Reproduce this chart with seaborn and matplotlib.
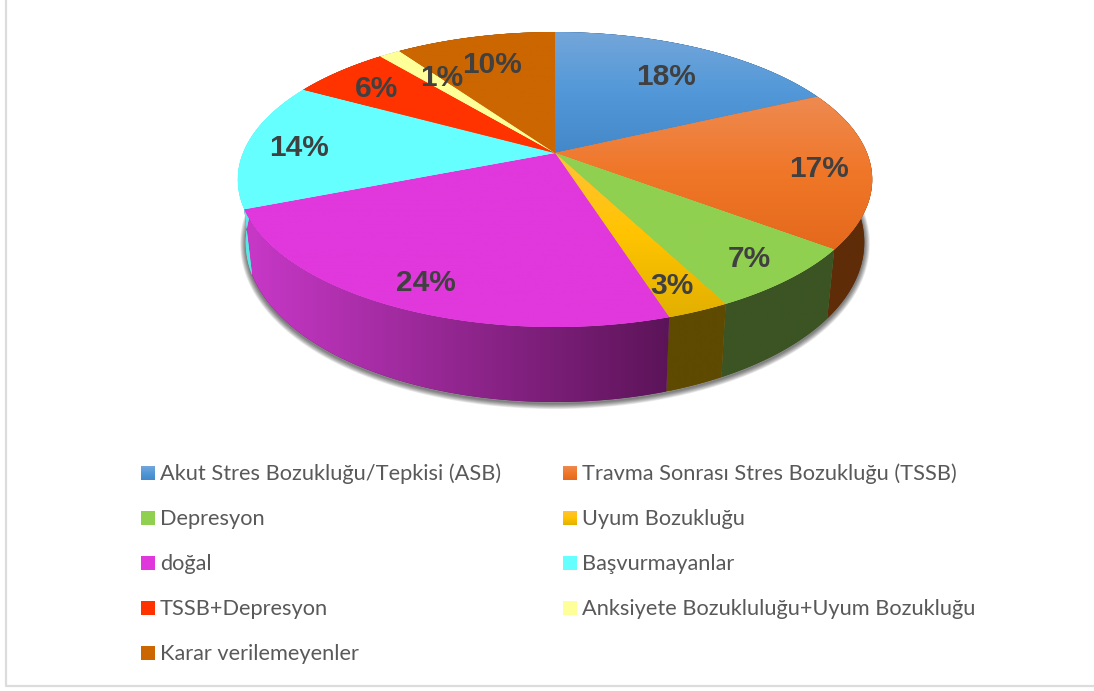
"""Pasta grafigi (3B gorunum) - tani dagilimi."""

import numpy as np
import pandas as pd
import matplotlib
matplotlib.use("Agg")
import matplotlib.pyplot as plt
from matplotlib.patches import Polygon
import seaborn as sns

# =========================
# DATA
# =========================
categories = [
    "Akut Stres Bozukluğu/Tepkisi (ASB)",
    "Travma Sonrası Stres Bozukluğu (TSSB)",
    "Depresyon",
    "Uyum Bozukluğu",
    "doğal",
    "Başvurmayanlar",
    "TSSB+Depresyon",
    "Anksiyete Bozukluluğu+Uyum Bozukluğu",
    "Karar verilemeyenler",
]
values = [18, 17.3, 7.1, 2.7, 23.9, 14, 6, 1.3, 9.7]

top_colors = [
    ["#74a6da", "#5298d8", "#4488c8"],
    ["#ee8a50", "#f07628", "#e4691c"],
    ["#90d050", "#90d050"],
    ["#ffc23a", "#ffc400", "#e2b000"],
    ["#e038dc", "#e038dc"],
    ["#66ffff", "#66ffff"],
    ["#ff3300", "#ff3300"],
    ["#ffff99", "#ffff99"],
    ["#cc6600", "#cc6600"],
]
side_colors = [
    ["#2a4a70", "#2a4a70"],
    ["#5f2c08", "#5f2c08"],
    ["#3c5423", "#3c5423"],
    ["#5e4a00", "#5e4a00"],
    ["#c838c8", "#5c1458"],
    ["#5ce6e6", "#5ce6e6"],
    ["#8c2300", "#8c2300"],
    ["#a0a060", "#a0a060"],
    ["#703800", "#703800"],
]
label_pos = [(666, 77), (819, 169), (749, 259), (672, 286), (426, 283),
             (299, 148), (376, 89), (442, 78), (492, 65)]

# geometrie de la vue
CX, CY = 555, 153
RX, RY = 312, 142.7
K = 0.18
SHRINK = 0.975


def top_xy(theta):
    u, v = np.sin(theta), -np.cos(theta)
    s = 1 / (1 - K * v)
    return CX + RX * u * s, CY + RY * v * s


def bottom_xy(theta):
    x, y = top_xy(theta)
    v = -np.cos(theta)
    return CX + (x - CX) * SHRINK, y + 60 + 15 * v


def gradient_fill(ax, poly, stops, vertical=True, zorder=3):
    xs, ys = poly[:, 0], poly[:, 1]
    cmap = sns.blend_palette(stops, as_cmap=True)
    ramp = np.linspace(0, 1, 256)
    arr = ramp[:, None] if vertical else ramp[None, :]
    patch = Polygon(poly, closed=True, facecolor=stops[-1], edgecolor="none", zorder=zorder)
    ax.add_patch(patch)
    im = ax.imshow(arr, cmap=cmap, vmin=0, vmax=1, aspect="auto", zorder=zorder,
                   extent=[xs.min(), xs.max(), ys.max(), ys.min()], origin="upper")
    im.set_clip_path(patch)


def plot_pie(ax, df):
    edges = np.cumsum([0] + list(df["value"])) / df["value"].sum() * 2 * np.pi

    # ombre sous le disque
    arc = np.linspace(np.radians(85), np.radians(272), 300)
    bx, by = bottom_xy(arc)
    for lw in np.arange(8, 0, -1.0):
        ax.plot(bx, by + 1.5, color="black", lw=lw, alpha=0.08, zorder=1,
                solid_capstyle="round")

    # flancs
    for i, (a, b) in enumerate(zip(edges[:-1], edges[1:])):
        t = np.linspace(a, b, 120)
        tx, ty = top_xy(t)
        bx, by = bottom_xy(t)
        poly = np.column_stack([np.r_[tx, bx[::-1]], np.r_[ty, by[::-1]]])
        gradient_fill(ax, poly, side_colors[i], vertical=False, zorder=2)

    # dessus
    for i, (a, b) in enumerate(zip(edges[:-1], edges[1:])):
        t = np.linspace(a, b, 200)
        tx, ty = top_xy(t)
        poly = np.column_stack([np.r_[CX, tx], np.r_[CY, ty]])
        gradient_fill(ax, poly, top_colors[i], zorder=4)

    for val, (x, y) in zip(df["value"], label_pos):
        ax.text(x, y, f"{val:.0f}%", ha="center", va="center", fontsize=21.5,
                fontweight="bold", family="Liberation Sans", color="#404040", zorder=6)


def plot_legend(ax, df):
    for i, name in enumerate(df["name"]):
        x = 141 if i % 2 == 0 else 563
        y = 473 + 45 * (i // 2)
        poly = np.array([[x, y - 7], [x + 14, y - 7], [x + 14, y + 7], [x, y + 7]], float)
        gradient_fill(ax, poly, top_colors[i], zorder=4)
        ax.text(x + 19, y + 1, name, ha="left", va="center", fontsize=15.7,
                family="Lato", color="#595959", zorder=6)


def main():
    sns.set_theme(style="white")
    df = pd.DataFrame({"name": categories, "value": values})

    fig, ax = plt.subplots(figsize=(10.94, 6.91), dpi=100)
    ax.set_position([0, 0, 1, 1])
    ax.axis("off")

    plot_pie(ax, df)
    plot_legend(ax, df)

    # cadre du graphique
    ax.plot([6, 6, 1094], [0, 686, 686], color="#dcdcdc", lw=1.6, zorder=1)

    ax.set_xlim(0, 1094)
    ax.set_ylim(691, 0)
    fig.savefig("out.png", dpi=100)


if __name__ == "__main__":
    main()
